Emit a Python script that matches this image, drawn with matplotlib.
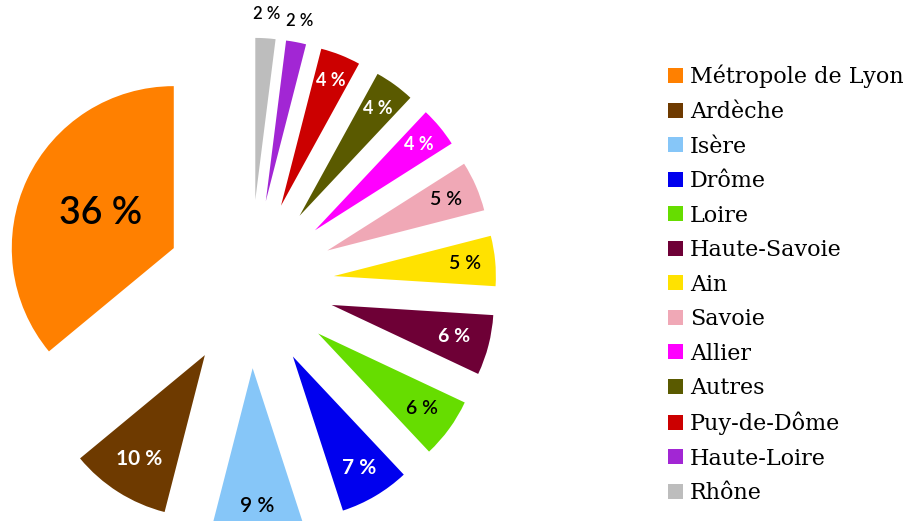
import numpy as np
import matplotlib
matplotlib.use("Agg")
import matplotlib.pyplot as plt

# ---- data ----
labels = ["Métropole de Lyon", "Ardèche", "Isère", "Drôme", "Loire", "Haute-Savoie", "Ain",
          "Savoie", "Allier", "Autres", "Puy-de-Dôme", "Haute-Loire", "Rhône"]
shares = [36, 10, 9, 7, 6, 6, 5, 5, 4, 4, 4, 2, 2]

# ---- style ----
colors = ["#ff8000", "#6e3a00", "#86c6f8", "#0000ee", "#66dd00", "#6e0036", "#ffe200",
          "#f0a8b6", "#ff00ff", "#5a5a00", "#cc0000", "#a226d4", "#bdbdbd"]
txt_colors = ["black", "white", "black", "white", "black", "white", "black",
              "black", "white", "white", "white", "black", "black"]
txt_dist = [0.5, 0.76, 0.85, 0.8, 0.79, 0.78, 0.81, 0.8, 0.83, 0.82, 0.83, 1.13, 1.15]
txt_size = [27, 15, 15, 15, 14, 14, 14, 14, 13, 13, 13, 12, 12]

fig = plt.figure(figsize=(9.11, 5.21), dpi=100)
ax = fig.add_axes([0, 0, 1, 1])
wedges, _ = ax.pie(shares, colors=colors, startangle=90, counterclock=True,
                   explode=[0.52] * len(shares), radius=1.0,
                   wedgeprops=dict(linewidth=0))

for w, v, c, d, s in zip(wedges, shares, txt_colors, txt_dist, txt_size):
    th = np.deg2rad((w.theta1 + w.theta2) / 2)
    cx, cy = w.center
    ax.text(cx + d * w.r * np.cos(th), cy + d * w.r * np.sin(th), f"{v} %",
            ha="center", va="center", color=c, fontsize=s, family="Lato",
            fontweight="bold" if c == "white" else "semibold")

# pixel-based view: centre at (250, 284) from top-left, radius 162 px
px = 162.0
ax.set_aspect("auto")
ax.set_xlim(-250 / px, (911 - 250) / px)
ax.set_ylim(-(521 - 284) / px, 284 / px)
ax.axis("off")

leg = fig.legend(wedges, labels, loc="upper left", bbox_to_anchor=(668 / 911, 1 - 65 / 521),
                 frameon=False, prop=dict(family="DejaVu Serif", size=16),
                 handlelength=0.68, handleheight=0.68, handletextpad=0.32,
                 labelspacing=0.563, borderaxespad=0, borderpad=0)

fig.savefig("out.png", dpi=100)
